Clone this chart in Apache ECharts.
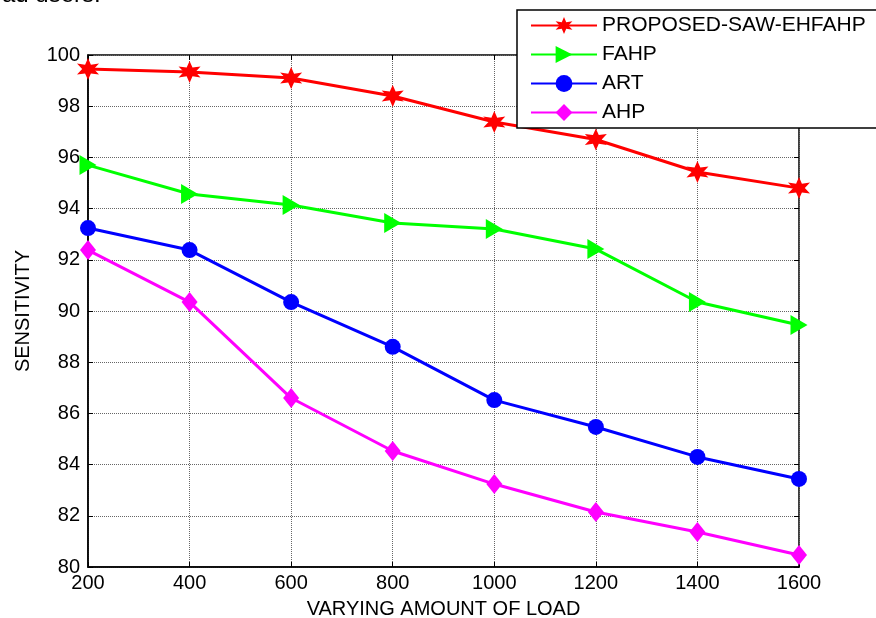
<!DOCTYPE html>
<html>
<head>
<meta charset="utf-8">
<script src="https://cdn.jsdelivr.net/npm/echarts@6/dist/echarts.min.js"></script>
<style>
html,body{margin:0;padding:0;background:#fff;}
#main{width:876px;height:618px;}
</style>
</head>
<body>
<div id="main"></div>
<script>
var loads = [200, 400, 600, 800, 1000, 1200, 1400, 1600];
var proposed = [99.45, 99.34, 99.1, 98.4, 97.38, 96.7, 95.43, 94.8];
var fahp = [95.7, 94.57, 94.14, 93.44, 93.2, 92.42, 90.35, 89.45];
var art = [93.24, 92.38, 90.35, 88.6, 86.52, 85.47, 84.3, 83.44];
var ahp = [92.38, 90.35, 86.6, 84.53, 83.24, 82.15, 81.37, 80.47];

// six pointed star (matlab hexagram)
function hexagram(){
    var p = [];
    for (var i = 0; i < 12; i++) {
        var r = (i % 2 == 0) ? 10 : 4.6;
        var a = Math.PI / 2 + i * Math.PI / 6;
        p.push((10 + r * Math.cos(a)).toFixed(2) + ' ' + (10 - r * Math.sin(a)).toFixed(2));
    }
    return 'path://M' + p.join(' L') + ' Z';
}
var triRight = 'path://M0 0 L10 6 L0 12 Z';

function pairs(ys){
    var out = [];
    for (var i = 0; i < loads.length; i++) out.push([loads[i], ys[i]]);
    return out;
}

function mkSeries(name, ys, color, symbol, size){
    return {
        name: name,
        type: 'line',
        data: pairs(ys),
        clip: false,
        symbol: symbol,
        symbolSize: size,
        lineStyle: {color: color, width: 3},
        itemStyle: {color: color, borderWidth: 0},
        emphasis: {disabled: true}
    };
}

var font = 'Liberation Sans, Arial, sans-serif';
var myChart = echarts.init(document.getElementById('main'));
var option = {
    animation: false,
    backgroundColor: '#fff',
    textStyle: {fontFamily: font},
    graphic: [{
        type: 'text',
        left: 2,
        top: -17,
        style: {text: 'ad users.', font: '24px Liberation Sans, Arial, sans-serif', fill: '#000'}
    }],
    grid: {
        left: 88, right: 77, top: 55, bottom: 51,
        outerBoundsMode: 'none',
        containLabel: false,
        show: true, borderColor: '#000', borderWidth: 1.5
    },
    legend: {
        left: 517,
        top: 10,
        orient: 'vertical',
        backgroundColor: '#fff',
        borderColor: '#000',
        borderWidth: 1.5,
        borderRadius: 0,
        padding: [5, 30, 5, 13],
        itemGap: 8,
        itemWidth: 66,
        itemHeight: 21,
        textStyle: {fontSize: 21, color: '#000', fontFamily: font},
        data: ['PROPOSED-SAW-EHFAHP', 'FAHP', 'ART', 'AHP']
    },
    xAxis: [{
        type: 'value',
        min: 200, max: 1600, interval: 200,
        name: 'VARYING AMOUNT OF LOAD',
        nameLocation: 'middle',
        nameGap: 32,
        nameTextStyle: {fontSize: 20, color: '#000'},
        axisLine: {lineStyle: {color: '#000', width: 1.5}},
        axisTick: {inside: true, length: 5, lineStyle: {color: '#000'}},
        axisLabel: {fontSize: 20, color: '#000', margin: 6, formatter: function(v){ return String(v); }},
        splitLine: {show: true, lineStyle: {color: '#666', type: 'dotted', width: 1}}
    }, {
        type: 'value',
        position: 'top',
        min: 200, max: 1600, interval: 200,
        axisLine: {show: false},
        axisTick: {inside: true, length: 5, lineStyle: {color: '#000'}},
        axisLabel: {show: false},
        splitLine: {show: false}
    }],
    yAxis: [{
        type: 'value',
        min: 80, max: 100, interval: 2,
        name: 'SENSITIVITY',
        nameLocation: 'middle',
        nameGap: 55,
        nameTextStyle: {fontSize: 20, color: '#000'},
        axisLine: {show: true, lineStyle: {color: '#000', width: 1.5}},
        axisTick: {show: true, inside: true, length: 5, lineStyle: {color: '#000'}},
        axisLabel: {fontSize: 20, color: '#000', margin: 8},
        splitLine: {show: true, lineStyle: {color: '#666', type: 'dotted', width: 1}}
    }, {
        type: 'value',
        position: 'right',
        min: 80, max: 100, interval: 2,
        axisLine: {show: false},
        axisTick: {show: true, inside: true, length: 5, lineStyle: {color: '#000'}},
        axisLabel: {show: false},
        splitLine: {show: false}
    }],
    series: [
        mkSeries('PROPOSED-SAW-EHFAHP', proposed, '#ff0000', hexagram(), 22),
        mkSeries('FAHP', fahp, '#00ff00', triRight, [17, 20]),
        mkSeries('ART', art, '#0000ff', 'circle', 16),
        mkSeries('AHP', ahp, '#ff00ff', 'diamond', [16, 20])
    ]
};
myChart.setOption(option);
</script>
</body>
</html>
